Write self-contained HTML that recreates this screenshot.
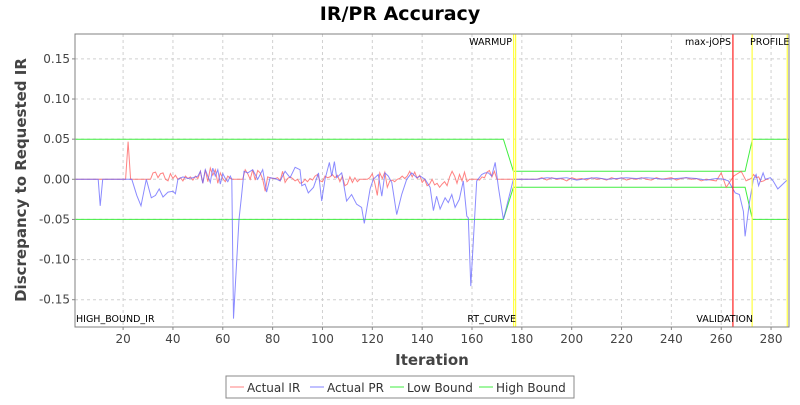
<!DOCTYPE html>
<html><head><meta charset="utf-8"><style>
body{margin:0;background:#fff;}
svg text{font-family:"DejaVu Sans","Liberation Sans",sans-serif;}
</style></head><body>
<svg id="chart" width="800" height="400" xmlns="http://www.w3.org/2000/svg">
<rect width="800" height="400" fill="#fff"/>
<text x="400" y="20" text-anchor="middle" font-size="19" font-weight="bold">IR/PR Accuracy</text>
<g id="grid"></g>
<g id="plot"></g>
<rect x="75" y="34" width="714" height="293" fill="none" stroke="#808080"/>
<g id="axes" font-size="12" fill="#444"></g>
<text x="432" y="365" text-anchor="middle" font-size="15" font-weight="bold" fill="#444">Iteration</text>
<text transform="translate(26,180) rotate(-90)" text-anchor="middle" font-size="15" font-weight="bold" fill="#444">Discrepancy to Requested IR</text>
<g>
<rect x="226" y="376" width="348" height="22" fill="#fff" stroke="#888"/>
<g><line x1="230" y1="387" x2="244" y2="387" stroke="#ff8080"/><text x="247" y="392" font-size="12" fill="#333">Actual IR</text></g>
<g><line x1="310" y1="387" x2="324" y2="387" stroke="#8080ff"/><text x="327" y="392" font-size="12" fill="#333">Actual PR</text></g>
<g><line x1="390" y1="387" x2="404" y2="387" stroke="#40ee40"/><text x="407" y="392" font-size="12" fill="#333">Low Bound</text></g>
<g><line x1="479" y1="387" x2="493" y2="387" stroke="#40ee40"/><text x="496" y="392" font-size="12" fill="#333">High Bound</text></g>
</g>
</svg>
<script>
const xTicks=[20,40,60,80,100,120,140,160,180,200,220,240,260,280];
const yTicks=[0.15,0.10,0.05,0.00,-0.05,-0.10,-0.15];
const yTickLabels=["0.15","0.10","0.05","0.00","-0.05","-0.10","-0.15"];
const highIter=[1,172.6,176.6,269.6,272.5,287];
const highVal=[0.05,0.05,0.01,0.01,0.05,0.05];
const lowIter=[1,172.6,176.6,269.6,272.5,287];
const lowVal=[-0.05,-0.05,-0.01,-0.01,-0.05,-0.05];
const irIter=[1,21,22,23,31,32,33,34,35,36,37,38,39,40,41,42,43,44,45,46,47,48,49,50,51,52,53,54,55,56,57,58,59,60,61,62,63,64,68,69,70,71,72,73,74,75,76,77,78,79,80,81,82,83,84,85,86,87,88,89,90,91,92,93,94,95,96,97,98,99,100,101,102,103,104,105,106,107,108,109,110,111,112,113,114,115,118,119,120,121,122,123,124,125,126,127,128,129,130,131,132,133,134,135,136,137,138,139,140,141,142,143,144,145,146,147,148,149,150,151,152,153,154,155,156,157,158,159,162,163,164,165,166,167,168,169,170,186,188,190,192,194,196,198,200,202,204,206,208,210,212,214,216,218,220,222,224,226,228,230,232,234,236,238,240,242,244,246,248,250,252,254,256,258,260,262,265,268,270,272,273,274,275,276,277,278,279,280,281,283,285,287];
const irVal=[0,0,0.047,0,0,0.008,0.009,0.002,0.007,0.008,0,-0.002,0.007,0.001,0.005,0,0.002,-0.002,0.004,0.001,0.003,-0.001,0.004,0.001,0.010,-0.005,0.012,-0.003,0.014,0.005,0.012,-0.005,0.008,0.001,-0.003,0.004,0.001,0,0,0.012,0.007,0,0.012,-0.001,0.011,0.008,0,-0.015,0.003,0.002,0.001,0.001,0.002,-0.002,0.010,-0.004,0.001,0.003,0.001,-0.002,0,-0.005,-0.004,0,-0.003,0.001,-0.001,0.004,0.006,-0.002,-0.003,0.004,0.002,0.003,0.006,0.002,0.005,-0.003,0.004,-0.008,-0.006,0.003,-0.004,0.002,-0.003,0,0,0.002,0.007,-0.005,-0.02,0.008,0.001,0.009,-0.01,-0.002,-0.001,-0.003,0,0.001,0.004,0.001,0.004,0.010,0.003,0.009,0.001,0.005,-0.004,0,-0.008,-0.006,0,-0.007,-0.005,-0.010,-0.006,-0.003,-0.008,0.003,0.010,0.004,-0.005,0.006,-0.002,0.009,-0.003,0,0,-0.001,0.003,0.002,0.009,0.011,0.003,0.010,0,0,0.002,-0.001,0.002,0,0.001,-0.002,0.002,0,0.001,-0.001,0.002,0,0.001,-0.001,0.002,0,0.002,-0.001,0.001,0,0.002,0,-0.001,0.002,0,0.001,0.002,-0.001,0.001,0.002,0,0.001,-0.002,0,-0.001,-0.002,0.008,-0.010,0.004,0.010,-0.002,0.001,0.006,0.002,0.003,-0.003,-0.002,0,0];
const prIter=[1,10,10.8,11.8,23.5,25.5,27.2,29.3,31.3,33,34.5,36,38,40,41,42,44,46,48,50,51,52,53,55,56,57,58,59,60,61,62,63,63.6,64.3,66.5,67.5,68.5,70,72,74,76,77.6,79,81,83,85,87,89,91,91.7,93,94.3,96.4,98.4,99.7,101,102.8,103.7,104.8,105.7,107.7,109.7,111.7,113.7,115.7,116.8,119.1,120.4,122.4,123.8,125.1,126.4,127.8,129.8,131.8,133.8,135.8,137.8,139.2,141.2,143.2,144.5,145.8,147.2,149.2,150.5,151.9,153.2,154.9,156.5,157.9,158.5,159.5,161.9,163.9,165.2,166.6,167.9,169.3,170.6,172.6,176.6,186,190,194,198,202,206,210,214,218,222,226,230,234,238,242,246,250,254,258,261,262.9,265.6,267.3,268.9,269.6,271.3,272.9,274,275,276.8,277.7,279.7,280.8,282.7,286.4];
const prVal=[0,0,-0.033,0,0,-0.02,-0.033,0,-0.023,-0.02,-0.012,-0.022,-0.016,-0.015,-0.018,0,0.003,0.001,0.002,0.004,0.010,-0.005,0.012,-0.004,0.014,0.004,0.012,-0.006,0.007,0.001,-0.003,0.004,0,-0.1735,-0.05,-0.021,0.010,0.008,0.012,0,0.012,-0.016,0.002,0.001,-0.002,0.010,0.002,0.015,0.012,-0.008,-0.006,-0.017,-0.010,0.008,-0.027,0,0.021,0.004,0.022,0.002,0.008,-0.027,-0.019,-0.031,-0.035,-0.055,-0.012,0,0.006,-0.021,0.008,0.004,-0.004,-0.044,-0.019,0,0.008,0.002,0.004,0,-0.010,-0.039,-0.021,-0.037,-0.023,-0.029,-0.019,-0.035,-0.025,-0.002,-0.046,-0.048,-0.133,-0.002,0.006,0.008,0.008,0.004,0.021,-0.010,-0.050,0,0,0.002,0.001,0.002,-0.001,0.001,0.002,0,0.001,0.002,0.001,0.002,0.001,0,0.001,0.002,0.001,-0.001,0.001,0,-0.002,-0.017,-0.019,-0.040,-0.071,-0.029,0,0.006,-0.008,0.008,0,0.002,-0.002,-0.012,-0.001];
const X0=75,X1=789,Y0=34,Y1=327;
const xMin=0.7,xMax=287.2,yMin=-0.184,yMax=0.181;
const xs=v=>X0+(v-xMin)/(xMax-xMin)*(X1-X0);
const ys=v=>Y1-(v-yMin)/(yMax-yMin)*(Y1-Y0);
const NS="http://www.w3.org/2000/svg";
const grid=document.getElementById('grid'),plot=document.getElementById('plot'),axes=document.getElementById('axes');
function mk(tag,attrs,parent){const e=document.createElementNS(NS,tag);for(const k in attrs)e.setAttribute(k,attrs[k]);parent.appendChild(e);return e;}
xTicks.forEach(t=>{
 const g=mk('line',{x1:xs(t),x2:xs(t),y1:Y0,y2:Y1,stroke:'#d0d0d0','stroke-dasharray':'3,3'},grid);
 
 
 const tk=mk('line',{x1:xs(t),x2:xs(t),y1:Y1,y2:Y1+3,stroke:'#888'},axes);
 
 
 const l=mk('text',{x:xs(t),y:Y1+16,'text-anchor':'middle'},axes);l.textContent=t;
 
 
});
yTicks.forEach((t,i)=>{
 const g=mk('line',{x1:X0,x2:X1,y1:ys(t),y2:ys(t),stroke:'#d0d0d0','stroke-dasharray':'3,3'},grid);
 
 
 const tk=mk('line',{x1:X0-3,x2:X0,y1:ys(t),y2:ys(t),stroke:'#888'},axes);
 
 
 const l=mk('text',{x:X0-5,y:ys(t)+4,'text-anchor':'end'},axes);l.textContent=yTickLabels[i];
 
 
});
function series(it,val,color,name){
 const d=it.map((v,i)=>(i?'L':'M')+xs(v).toFixed(1)+','+ys(val[i]).toFixed(1)).join(' ');
 const p=mk('path',{d:d,fill:'none',stroke:color,'stroke-width':1},plot);
 
 
}
series(highIter,highVal,'#40ee40','high-bound-line');
series(lowIter,lowVal,'#40ee40','low-bound-line');
series(irIter,irVal,'rgba(255,100,100,0.8)','actual-ir-line');
series(prIter,prVal,'rgba(100,100,255,0.75)','actual-pr-line');
const markerIter=[176.7,177.5,264.7,272.4,286.5];
const markerColor=['#ffff40','#ffff40','#ff2020','#ffff40','#ffff40'];
markerIter.forEach((m,i)=>{
 const l=mk('line',{x1:xs(m),x2:xs(m),y1:Y0,y2:Y1,stroke:markerColor[i],'stroke-width':1.2},plot);
 
 
});
const labels=[["WARMUP",512,45,"end"],["max-jOPS",731,45,"end"],["PROFILE",750,45,"start"],["HIGH_BOUND_IR",76,322,"start"],["RT_CURVE",516,322,"end"],["VALIDATION",753,322,"end"]];
labels.forEach(a=>{
 const t=mk('text',{x:a[1],y:a[2],'text-anchor':a[3],'font-size':9.5,fill:'#000'},plot);
 t.textContent=a[0];
 
 
});
</script>
</body></html>
